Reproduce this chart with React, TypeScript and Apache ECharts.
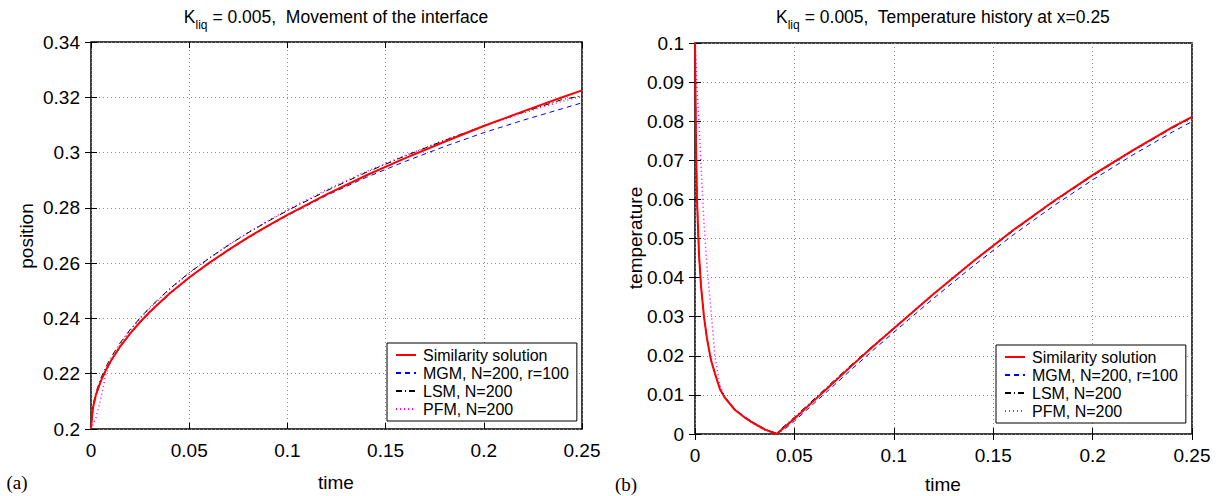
import React, { useEffect, useRef } from "react";
import * as echarts from "echarts";

// ---------- data ----------
const posTime = [0, 0.001, 0.0025, 0.005, 0.0075, 0.01, 0.015, 0.02, 0.025, 0.03, 0.04, 0.05, 0.06, 0.07, 0.08, 0.09, 0.1, 0.12, 0.14, 0.16, 0.18, 0.2, 0.22, 0.24, 0.25];
const posSimilarity = [0.2, 0.2077, 0.2123, 0.2173, 0.2212, 0.2245, 0.23, 0.2346, 0.2387, 0.2424, 0.249, 0.2548, 0.26, 0.2648, 0.2693, 0.2735, 0.2775, 0.2849, 0.2917, 0.298, 0.3039, 0.3096, 0.3149, 0.32, 0.3225];
const posMGM = [0.2, 0.2075, 0.2121, 0.2171, 0.221, 0.2243, 0.2298, 0.2344, 0.2385, 0.2422, 0.2488, 0.2546, 0.2598, 0.2646, 0.2691, 0.2733, 0.2772, 0.2845, 0.291, 0.2968, 0.3022, 0.3072, 0.3117, 0.3159, 0.318];
const posLSM = [0.2, 0.2085, 0.2132, 0.2183, 0.2223, 0.2257, 0.2313, 0.236, 0.2402, 0.244, 0.2507, 0.2565, 0.2617, 0.2665, 0.271, 0.2751, 0.279, 0.2862, 0.2928, 0.2988, 0.3044, 0.3097, 0.3146, 0.3192, 0.3205];
const posPFM = [0.2, 0.2015, 0.204, 0.211, 0.2195, 0.2245, 0.2308, 0.2357, 0.24, 0.2438, 0.2505, 0.2564, 0.2617, 0.2666, 0.2711, 0.2753, 0.2793, 0.2866, 0.2931, 0.299, 0.3045, 0.3096, 0.3143, 0.3186, 0.3203];

const tempTime = [0, 0.0005, 0.001, 0.002, 0.003, 0.0045, 0.006, 0.008, 0.01, 0.0125, 0.015, 0.02, 0.025, 0.03, 0.035, 0.041, 0.045, 0.05, 0.06, 0.07, 0.08, 0.09, 0.1, 0.12, 0.14, 0.16, 0.18, 0.2, 0.22, 0.24, 0.25];
const tempSimilarity = [0.1, 0.075, 0.06, 0.046, 0.038, 0.03, 0.0245, 0.019, 0.0155, 0.0115, 0.0093, 0.0062, 0.0042, 0.0026, 0.0012, 0, 0.0017, 0.0039, 0.0086, 0.0133, 0.018, 0.0226, 0.027, 0.0358, 0.0442, 0.0521, 0.0594, 0.0662, 0.0725, 0.0784, 0.0811];
const tempMGM = [0.1, 0.074, 0.059, 0.0455, 0.0378, 0.0298, 0.0244, 0.019, 0.0156, 0.0117, 0.0095, 0.0064, 0.0044, 0.0028, 0.0013, 0.0001, 0.0012, 0.0033, 0.0079, 0.0125, 0.0171, 0.0216, 0.026, 0.0347, 0.043, 0.0509, 0.0582, 0.065, 0.0713, 0.0772, 0.0799];
const tempLSM = [0.1, 0.076, 0.061, 0.0465, 0.0382, 0.0302, 0.0246, 0.0191, 0.0156, 0.0116, 0.0094, 0.0063, 0.0043, 0.0027, 0.0013, 0.0002, 0.0021, 0.0043, 0.009, 0.0137, 0.0183, 0.0228, 0.0271, 0.0358, 0.0441, 0.0519, 0.0592, 0.066, 0.0723, 0.0782, 0.0809];
const tempPFM = [0.1, 0.095, 0.088, 0.08, 0.069, 0.054, 0.043, 0.032, 0.02, 0.0125, 0.0092, 0.0063, 0.0042, 0.0025, 0.0011, 0, 0.0018, 0.004, 0.0087, 0.0134, 0.0181, 0.0227, 0.0271, 0.0359, 0.0443, 0.0522, 0.0595, 0.0663, 0.0726, 0.0784, 0.0811];

const seriesNames = ["Similarity solution", "MGM, N=200, r=100", "LSM, N=200", "PFM, N=200"];
const xTicks = { min: 0, max: 0.25, interval: 0.05 };
const posTicks = { min: 0.2, max: 0.34, interval: 0.02 };
const tempTicks = { min: 0, max: 0.1, interval: 0.01 };

const FONT = "'Liberation Sans', Arial, Helvetica, sans-serif";
const SERIF = "'Liberation Serif', 'Times New Roman', serif";

const zip = (xs: number[], ys: number[]) => xs.map((x, i) => [x, ys[i]]);

const styles = [
  { color: "#ff0000", width: 2, type: "solid" as any, z: 5 },
  { color: "#0000ff", width: 1, type: [5, 4] as any, z: 4 },
  { color: "#000000", width: 1, type: [6, 3, 1, 3] as any, z: 3 },
  { color: "#ff00ff", width: 1.5, type: [1, 3] as any, z: 2 },
];

function makeSeries(xIdx: number, t: number[], data: number[][]) {
  return data.map((ys, i) => ({
    type: "line",
    name: seriesNames[i],
    xAxisIndex: xIdx,
    yAxisIndex: xIdx,
    data: zip(t, ys),
    showSymbol: false,
    symbol: "none",
    z: styles[i].z,
    itemStyle: { color: styles[i].color },
    lineStyle: { color: styles[i].color, width: styles[i].width, type: styles[i].type },
  }));
}

const gridLine = { show: true, lineStyle: { color: "#8a8a8a", type: [1, 3] as any, width: 1 } };
const tickStyle = { show: true, inside: true, length: 6, lineStyle: { color: "#000", width: 1 } };
const labelStyle = { fontSize: 19, color: "#000", fontFamily: FONT };

function xAxes(grid: number) {
  return [
    {
      type: "value", gridIndex: grid, position: "bottom", ...xTicks,
      axisLine: { show: false }, axisTick: tickStyle, splitLine: gridLine,
      axisLabel: { ...labelStyle, margin: 12 },
    },
    {
      type: "value", gridIndex: grid, position: "top", ...xTicks,
      axisLine: { show: false }, axisTick: tickStyle, splitLine: { show: false },
      axisLabel: { show: false },
    },
  ];
}
function yAxes(grid: number, ticks: any) {
  return [
    {
      type: "value", gridIndex: grid, position: "left", ...ticks,
      axisLine: { show: false }, axisTick: tickStyle, splitLine: gridLine,
      axisLabel: { ...labelStyle, margin: 11 },
    },
    {
      type: "value", gridIndex: grid, position: "right", ...ticks,
      axisLine: { show: false }, axisTick: tickStyle, splitLine: { show: false },
      axisLabel: { show: false },
    },
  ];
}

function legendAt(left: number, top: number) {
  return {
    left, top, orient: "vertical",
    data: seriesNames,
    backgroundColor: "#fff", borderColor: "#000", borderWidth: 1, borderRadius: 0,
    padding: [3, 8, 3, 8], itemWidth: 20, itemHeight: 10, itemGap: 0,
    selectedMode: false,
    itemStyle: { opacity: 0 },
    textStyle: { fontSize: 16, color: "#000", fontFamily: FONT, lineHeight: 18, padding: [0, 0, 0, 2] },
  };
}

function titleText(x: number, y: number, rest: string) {
  return {
    type: "text", x, y,
    style: {
      text: `{k|K}{s|liq}{k| = 0.005,  ${rest}}`,
      align: "center", verticalAlign: "middle",
      rich: {
        k: { fontSize: 17.5, fontFamily: FONT, fill: "#000", lineHeight: 20, verticalAlign: "top" },
        s: { fontSize: 12, fontFamily: FONT, fill: "#000", lineHeight: 12, verticalAlign: "top", padding: [11, 0, 0, 0] },
      },
    },
  };
}

function plainText(x: number, y: number, text: string, opts: any = {}) {
  return {
    type: "text", x, y, rotation: opts.rotation || 0,
    style: {
      text, fill: "#000", fontSize: opts.fontSize || 19, fontFamily: opts.fontFamily || FONT,
      align: "center", verticalAlign: "middle",
    },
  };
}

export default function App() {
  const ref = useRef<HTMLDivElement>(null);
  useEffect(() => {
    if (!ref.current) return;
    const chart = echarts.init(ref.current, undefined, { renderer: "svg" });
    chart.setOption({
      animation: false,
      backgroundColor: "#fff",
      grid: [
        { left: 91, top: 42, width: 491, height: 387, show: true, borderColor: "#000", borderWidth: 1.5, backgroundColor: "transparent" },
        { left: 695, top: 43, width: 497, height: 391, show: true, borderColor: "#000", borderWidth: 1.5, backgroundColor: "transparent" },
      ],
      xAxis: [...xAxes(0), ...xAxes(1)],
      yAxis: [...yAxes(0, posTicks), ...yAxes(1, tempTicks)],
      legend: [legendAt(387, 343), legendAt(996, 345)],
      series: [
        ...makeSeries(0, posTime, [posSimilarity, posMGM, posLSM, posPFM]),
        ...makeSeries(2, tempTime, [tempSimilarity, tempMGM, tempLSM, tempPFM]),
      ],
      graphic: [
        titleText(336, 18, "Movement of the interface"),
        titleText(943, 18, "Temperature history at x=0.25"),
        plainText(336, 482, "time"),
        plainText(943, 484, "time"),
        plainText(26, 236, "position", { rotation: Math.PI / 2 }),
        plainText(635, 238, "temperature", { rotation: Math.PI / 2 }),
        plainText(17, 482, "(a)", { fontFamily: SERIF, fontSize: 19 }),
        plainText(626, 484, "(b)", { fontFamily: SERIF, fontSize: 19 }),
      ],
    });
    return () => chart.dispose();
  }, []);
  return (
    <div
      ref={ref}
      style={{ position: "fixed", left: 0, top: 0, width: 1223, height: 496, background: "#fff" }}
    />
  );
}
